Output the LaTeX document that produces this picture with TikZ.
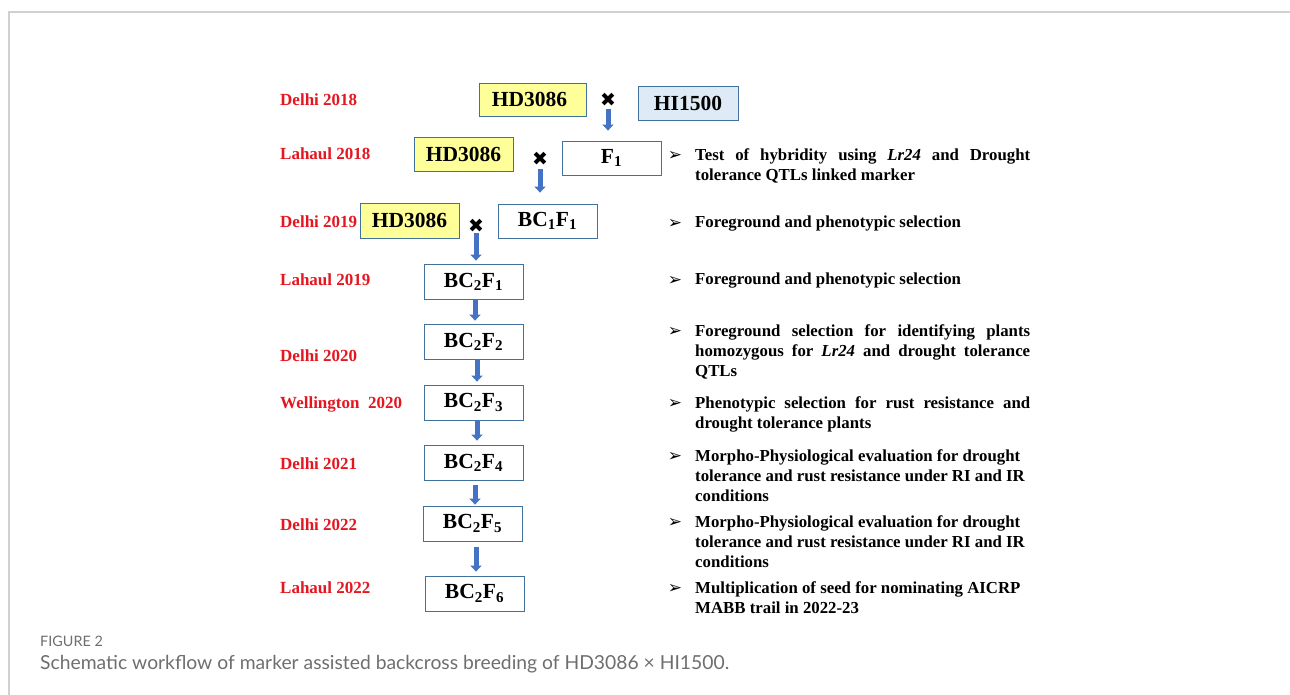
\documentclass[tikz,border=0pt]{standalone}
\usepackage{fontspec}
\setmainfont{Liberation Serif}
\newfontfamily\dejavu{DejaVu Sans}
\newfontfamily\capfont{Lato}
\usetikzlibrary{arrows.meta}
\definecolor{redlab}{RGB}{228,22,32}
\definecolor{boxborder}{RGB}{65,113,156}
\definecolor{yelfill}{RGB}{255,255,153}
\definecolor{bluefill}{RGB}{222,235,247}
\definecolor{arrowblue}{RGB}{68,114,196}
\definecolor{framegray}{RGB}{208,208,208}
\definecolor{capgray}{RGB}{110,110,110}
\begin{document}
\begin{tikzpicture}[x=1pt,y=-1pt,
  box/.style={draw=boxborder, line width=0.8pt, minimum width=99pt, minimum height=34pt, inner sep=0pt, fill=white, font=\bfseries\fontsize{21.5}{24}\selectfont},
  yelbox/.style={box, fill=yelfill},
  lab/.style={anchor=west, text=redlab, inner sep=0pt, font=\bfseries\fontsize{17}{18}\selectfont},
  desc/.style={anchor=north west, align=left, inner sep=0pt, font=\bfseries\fontsize{16.8}{20}\selectfont},
  bul/.style={inner sep=0pt, font=\dejavu\fontsize{17}{17}\selectfont},
  cross/.style={inner sep=0pt, font=\dejavu\fontsize{19}{19}\selectfont},
  flow/.style={draw=arrowblue, line width=5pt, -{Triangle[length=6pt,width=11pt]}}
]
\useasboundingbox (0,0) rectangle (1290,695);
% frame
\draw[framegray, line width=1.3pt] (9,695) -- (9,12) coordinate (fc) -- (1290,12);

% boxes
\node[yelbox, minimum width=107pt, minimum height=33pt] (hd1) at (532.5,99.5) {HD3086\hspace*{6pt}};
\node[box, fill=bluefill, minimum width=100pt] (hi) at (688,103) {HI1500};
\node[yelbox] (hd2) at (463.5,154) {HD3086};
\node[box] (f1) at (611.5,158) {F\textsubscript{1}};
\node[yelbox, minimum height=35pt] (hd3) at (409.5,220.5) {HD3086};
\node[box] (bc1) at (547.5,221) {BC\textsubscript{1}F\textsubscript{1}};
\node[box, minimum height=35pt] (b1) at (473.5,281.5) {BC\textsubscript{2}F\textsubscript{1}};
\node[box, minimum height=35pt] (b2) at (473.5,341.5) {BC\textsubscript{2}F\textsubscript{2}};
\node[box, minimum height=35pt] (b3) at (473.5,402.5) {BC\textsubscript{2}F\textsubscript{3}};
\node[box, minimum height=35pt] (b4) at (473.5,462.5) {BC\textsubscript{2}F\textsubscript{4}};
\node[box, minimum height=35pt] (b5) at (472.5,523.5) {BC\textsubscript{2}F\textsubscript{5}};
\node[box, minimum height=35pt] (b6) at (474.5,593.5) {BC\textsubscript{2}F\textsubscript{6}};

% crosses
\node[cross] (x1) at (608,100) {✖};
\node[cross] (x2) at (540,159) {✖};
\node[cross] (x3) at (476,226) {✖};

% arrows
\draw[flow, shorten <=2pt, shorten >=10pt] (x1.south) -- (x1.south |- f1.north);
\draw[flow, shorten <=3pt, shorten >=11pt] (x2.south) -- (x2.south |- bc1.north);
\draw[flow, shorten <=0pt, shorten >=3pt] (x3.south) -- (x3.south |- b1.north);
\draw[flow, shorten >=3pt] ([xshift=1.5pt]b1.south) -- ([xshift=1.5pt]b2.north);
\draw[flow, shorten >=3pt] ([xshift=3.5pt]b2.south) -- ([xshift=3.5pt]b3.north);
\draw[flow, shorten >=4pt] ([xshift=3.5pt]b3.south) -- ([xshift=3.5pt]b4.north);
\draw[flow, shorten <=5pt, shorten >=1pt] ([xshift=1.5pt]b4.south) -- ([xshift=1.5pt]b4.south |- b5.north);
\draw[flow, shorten <=6pt, shorten >=4pt] ([xshift=3.5pt]b5.south) -- ([xshift=3.5pt]b5.south |- b6.north);

% red labels
\node[lab] (l1) at (280,100) {Delhi 2018};
\node[lab] (l2) at (280,154) {Lahaul 2018};
\node[lab] (l3) at (280,222) {Delhi 2019};
\node[lab] (l4) at (280,280) {Lahaul 2019};
\node[lab] (l5) at (280,356) {Delhi 2020};
\node[lab] (l6) at (280,404) {Wellington\ \ 2020};
\node[lab] (l7) at (280,464) {Delhi 2021};
\node[lab] (l8) at (280,525) {Delhi 2022};
\node[lab] (l9) at (280,588) {Lahaul 2022};

% bullets
\foreach \n/\y in {1/155.5,2/223.5,3/280.5,4/331.5,5/403.5,6/456.5,7/522.5,8/588.5}
  \node[bul] (bu\n) at (675,\y) {➢};

% descriptions
\node[desc] (d1) at (695,148) {\hbox to 335pt{Test of hybridity using \textit{Lr24} and Drought}\\tolerance QTLs linked marker};
\node[desc] (d2) at (695,216) {Foreground and phenotypic selection};
\node[desc] (d3) at (695,273) {Foreground and phenotypic selection};
\node[desc] (d4) at (695,324) {\hbox to 335pt{Foreground selection for identifying plants}\\\hbox to 335pt{homozygous for \textit{Lr24} and drought tolerance}\\QTLs};
\node[desc] (d5) at (695,396) {\hbox to 335pt{Phenotypic selection for rust resistance and}\\drought tolerance plants};
\node[desc] (d6) at (695,449) {Morpho-Physiological evaluation for drought\\tolerance and rust resistance under RI and IR\\conditions};
\node[desc] (d7) at (695,515) {Morpho-Physiological evaluation for drought\\tolerance and rust resistance under RI and IR\\conditions};
\node[desc] (d8) at (695,581) {Multiplication of seed for nominating AICRP\\MABB trail in 2022-23};

% caption
\node[anchor=west, inner sep=0pt, text=capgray, font=\capfont\fontsize{14.4}{16}\selectfont] (cap1) at (40,641) {FIGURE 2};
\node[anchor=west, inner sep=0pt, text=capgray, font=\capfont\fontsize{19.3}{22}\selectfont] (cap2) at (40,664) {Schematic workflow of marker assisted backcross breeding of HD3086 × HI1500.};
\end{tikzpicture}
\end{document}
